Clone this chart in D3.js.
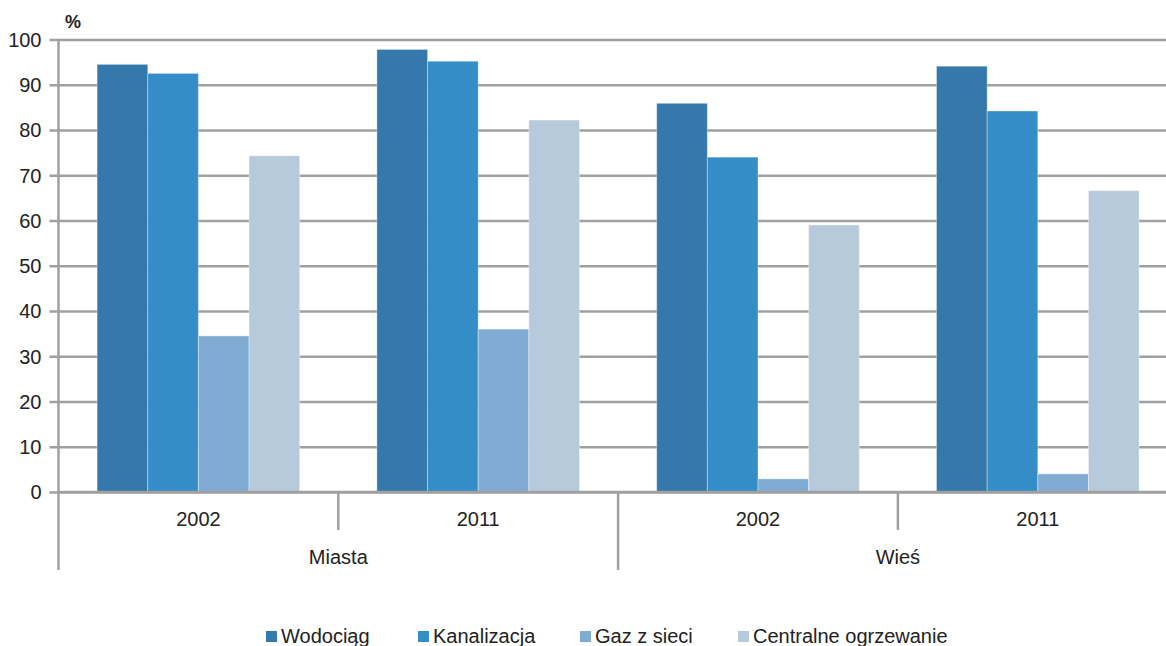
<!DOCTYPE html>
<html>
<head>
<meta charset="utf-8">
<script src="https://cdn.jsdelivr.net/npm/d3@7/dist/d3.min.js"></script>
<style>
  body { margin: 0; background: #fff; }
  svg { display: block; font-family: "Liberation Sans", Arial, sans-serif; }
</style>
</head>
<body>
<svg width="1166" height="646"></svg>
<script>
(function () {

var regions = ["Miasta", "Wieś"];
var years = ["2002", "2011"];
var series = ["Wodociąg", "Kanalizacja", "Gaz z sieci", "Centralne ogrzewanie"];
var colors = ["#3478ac", "#348dc6", "#80acd4", "#b7cadc"];
// one row per group (Miasta 2002, Miasta 2011, Wieś 2002, Wieś 2011)
var wodociag    = [94.5, 97.8, 85.9, 94.1];
var kanalizacja = [92.5, 95.2, 74.0, 84.2];
var gaz         = [34.5, 36.0, 2.9, 4.0];
var centralne   = [74.3, 82.2, 59.0, 66.6];
var yTicks = [0, 10, 20, 30, 40, 50, 60, 70, 80, 90, 100];

var values = [wodociag, kanalizacja, gaz, centralne];
var groups = [];
regions.forEach(function (r) {
  years.forEach(function (y) { groups.push({ region: r, year: y, key: r + " " + y }); });
});

var svg = d3.select("svg");
var left = 58.5, right = 1177.7, top = 39.5, bottom = 492;
var grey = "#a0a0a0";

var x0 = d3.scaleBand().domain(groups.map(function (g) { return g.key; })).range([left, right]);
var x1 = d3.scaleBand().domain(series).range([38.6, x0.bandwidth() - 38.6]);
var y = d3.scaleLinear().domain([0, 100]).range([bottom, top]);

// gridlines + y ticks
var yAxis = d3.axisLeft(y).tickValues(yTicks).tickSize(-(right - left)).tickPadding(8);
var gy = svg.append("g").attr("transform", "translate(" + left + ",0)").call(yAxis);
gy.select(".domain").remove();
gy.selectAll(".tick line").attr("stroke", grey).attr("stroke-width", 2.5).attr("x1", -9);
gy.selectAll(".tick text").attr("fill", "#222").style("font-size", "20px")
  .attr("x", -17).attr("dy", "0.34em");

// bars
groups.forEach(function (g, gi) {
  var gg = svg.append("g").attr("transform", "translate(" + x0(g.key) + ",0)");
  gg.selectAll("rect").data(series).enter().append("rect")
    .attr("x", function (s) { return x1(s); })
    .attr("width", x1.bandwidth())
    .attr("y", function (s, si) { return y(values[si][gi]); })
    .attr("height", function (s, si) { return bottom - y(values[si][gi]); })
    .attr("fill", function (s, si) { return colors[si]; })
    .attr("stroke", "rgba(255,255,255,0.35)")
    .attr("stroke-width", 1);
});

// baseline and y axis line
svg.append("line").attr("x1", left).attr("x2", right).attr("y1", bottom).attr("y2", bottom)
  .attr("stroke", grey).attr("stroke-width", 2.5);
svg.append("line").attr("x1", left).attr("x2", left).attr("y1", top).attr("y2", 570)
  .attr("stroke", grey).attr("stroke-width", 2.5);

// category separators
groups.forEach(function (g, gi) {
  if (gi === 0) return;
  var xs = x0(g.key);
  var major = g.year === years[0];
  svg.append("line").attr("x1", xs).attr("x2", xs).attr("y1", bottom).attr("y2", major ? 570 : 530)
    .attr("stroke", grey).attr("stroke-width", 2.5);
});

// year labels
svg.selectAll("text.year").data(groups).enter().append("text")
  .attr("class", "year")
  .attr("x", function (g) { return x0(g.key) + x0.bandwidth() / 2; })
  .attr("y", 526)
  .attr("text-anchor", "middle").attr("fill", "#222").style("font-size", "20px")
  .text(function (g) { return g.year; });

// region labels
svg.selectAll("text.region").data(regions).enter().append("text")
  .attr("class", "region")
  .attr("x", function (r) { return x0(r + " " + years[1]); })
  .attr("y", 564)
  .attr("text-anchor", "middle").attr("fill", "#222").style("font-size", "20px")
  .text(function (r) { return r; });

// unit
svg.append("text").attr("x", 65).attr("y", 28).attr("fill", "#222")
  .style("font-size", "18px").style("font-weight", "bold").text("%");

// legend
var legendX = [266, 418, 580, 738];
var lg = svg.selectAll("g.legend").data(series).enter().append("g")
  .attr("class", "legend")
  .attr("transform", function (s, i) { return "translate(" + legendX[i] + ",631)"; });
lg.append("rect").attr("width", 11).attr("height", 11)
  .attr("fill", function (s, i) { return colors[i]; });
lg.append("text").attr("x", 15).attr("y", 12).attr("fill", "#222").style("font-size", "20px")
  .text(function (s) { return s; });

})();
</script>
</body>
</html>
